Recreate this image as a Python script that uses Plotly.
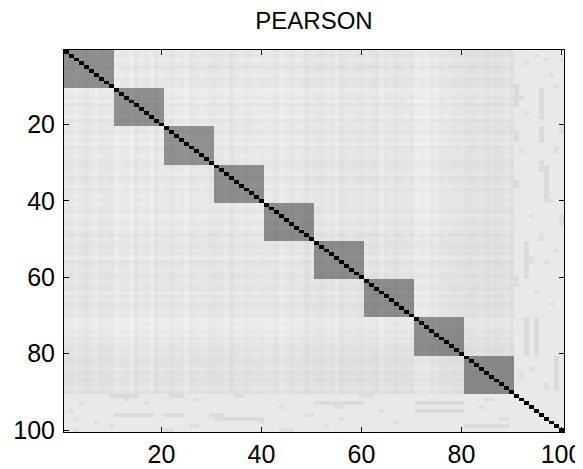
import numpy as np
import plotly.graph_objects as go

N = 100
block_size = 10
n_blocks = 9

# grey level (0 = white, 1 = black)
diag_level = 1.0
block_levels = [0.44, 0.45, 0.44, 0.45, 0.46, 0.45, 0.45, 0.46, 0.45]
bg_level = 0.095
tail_level = 0.088   # rows / cols 91-100

# per-index shading of the off-block background (variables 1..90)
index_shade = [
    0.00, 0.01, -0.01, 0.00, 0.02, 0.00, -0.01, 0.01, 0.00, 0.01,
    -0.02, -0.01, 0.00, -0.02, 0.01, -0.01, 0.00, -0.02, 0.01, -0.01,
    0.00, 0.01, -0.01, 0.00, -0.02, 0.01, 0.00, -0.01, 0.00, 0.01,
    0.01, 0.00, -0.01, 0.02, 0.00, -0.01, 0.01, 0.00, -0.01, 0.00,
    -0.01, 0.00, 0.01, -0.02, 0.00, 0.01, -0.01, 0.00, 0.02, 0.00,
    0.01, 0.02, 0.00, 0.01, -0.01, 0.02, 0.01, 0.00, 0.01, 0.02,
    0.00, 0.01, 0.02, -0.01, 0.01, 0.00, 0.02, 0.01, 0.00, 0.01,
    -0.02, -0.01, -0.02, 0.00, -0.01, 0.01, 0.00, 0.01, 0.02, 0.01,
    0.02, 0.03, 0.02, 0.01, 0.03, 0.02, 0.03, 0.02, 0.01, 0.03,
]

# short streaks in the last ten variables: (row, col_from, col_to, level)
streaks = [
    (91, 10, 15, 0.15), (91, 22, 24, 0.14), (91, 35, 36, 0.14), (91, 60, 62, 0.13),
    (92, 13, 13, 0.14), (92, 27, 27, 0.13), (92, 85, 86, 0.13),
    (93, 51, 60, 0.14), (93, 71, 80, 0.14), (93, 4, 4, 0.13), (93, 17, 17, 0.13),
    (94, 55, 56, 0.13), (94, 84, 84, 0.13), (94, 44, 44, 0.13),
    (95, 71, 80, 0.14), (95, 2, 2, 0.13), (95, 64, 64, 0.13),
    (96, 11, 18, 0.14), (96, 21, 24, 0.14), (96, 30, 32, 0.14), (96, 49, 50, 0.13),
    (97, 31, 40, 0.14), (97, 3, 3, 0.13), (97, 88, 89, 0.13), (97, 56, 56, 0.13),
    (98, 40, 40, 0.13), (98, 67, 67, 0.13), (98, 7, 7, 0.13),
    (99, 10, 10, 0.13), (99, 81, 89, 0.14), (99, 26, 27, 0.13), (99, 53, 53, 0.13),
    (100, 3, 3, 0.13), (100, 21, 22, 0.13), (100, 44, 46, 0.13),
]

tick_vals = [20, 40, 60, 80, 100]

# assemble the correlation matrix
idx = np.arange(1, N + 1)
shade = np.array(index_shade + [0.0] * (N - len(index_shade)))
z = bg_level + shade[:, None] + shade[None, :]
for k in range(n_blocks):
    a, b = k * block_size, (k + 1) * block_size
    z[a:b, a:b] = block_levels[k] + 0.5 * (shade[a:b, None] + shade[None, a:b])
z[90:, :] = tail_level
z[:, 90:] = tail_level
for r, c0, c1, v in streaks:
    z[r - 1, c0 - 1:c1] = v
    z[c0 - 1:c1, r - 1] = v
np.fill_diagonal(z, diag_level)

fig = go.Figure(go.Heatmap(
    z=z, x=idx, y=idx,
    colorscale=[[0, "white"], [1, "black"]],
    zmin=0, zmax=1, showscale=False, hoverinfo="skip",
))

axis_style = dict(
    tickvals=tick_vals, ticks="inside", ticklen=5, tickcolor="black",
    showline=True, linecolor="black", linewidth=1, mirror="ticks",
    showgrid=False, zeroline=False, automargin=False,
    tickfont=dict(family="Liberation Sans, Arial", size=25, color="black"),
)
fig.update_xaxes(range=[0.5, 100.5], ticklabelstandoff=0, **axis_style)
fig.update_yaxes(range=[100.5, 0.5], ticklabelstandoff=3, **axis_style)

# the page body adds ~8 px on the top/left, so the figure is a bit smaller
fig.update_layout(
    width=575, height=461,
    margin=dict(l=56, r=19, t=42, b=37),
    paper_bgcolor="white", plot_bgcolor="white",
    title=dict(text="PEARSON", x=306 / 575, xanchor="center",
               y=1 - 13 / 461, yanchor="middle", yref="container",
               font=dict(family="Liberation Sans, Arial", size=24, color="black")),
)

fig.write_html("out.html")
